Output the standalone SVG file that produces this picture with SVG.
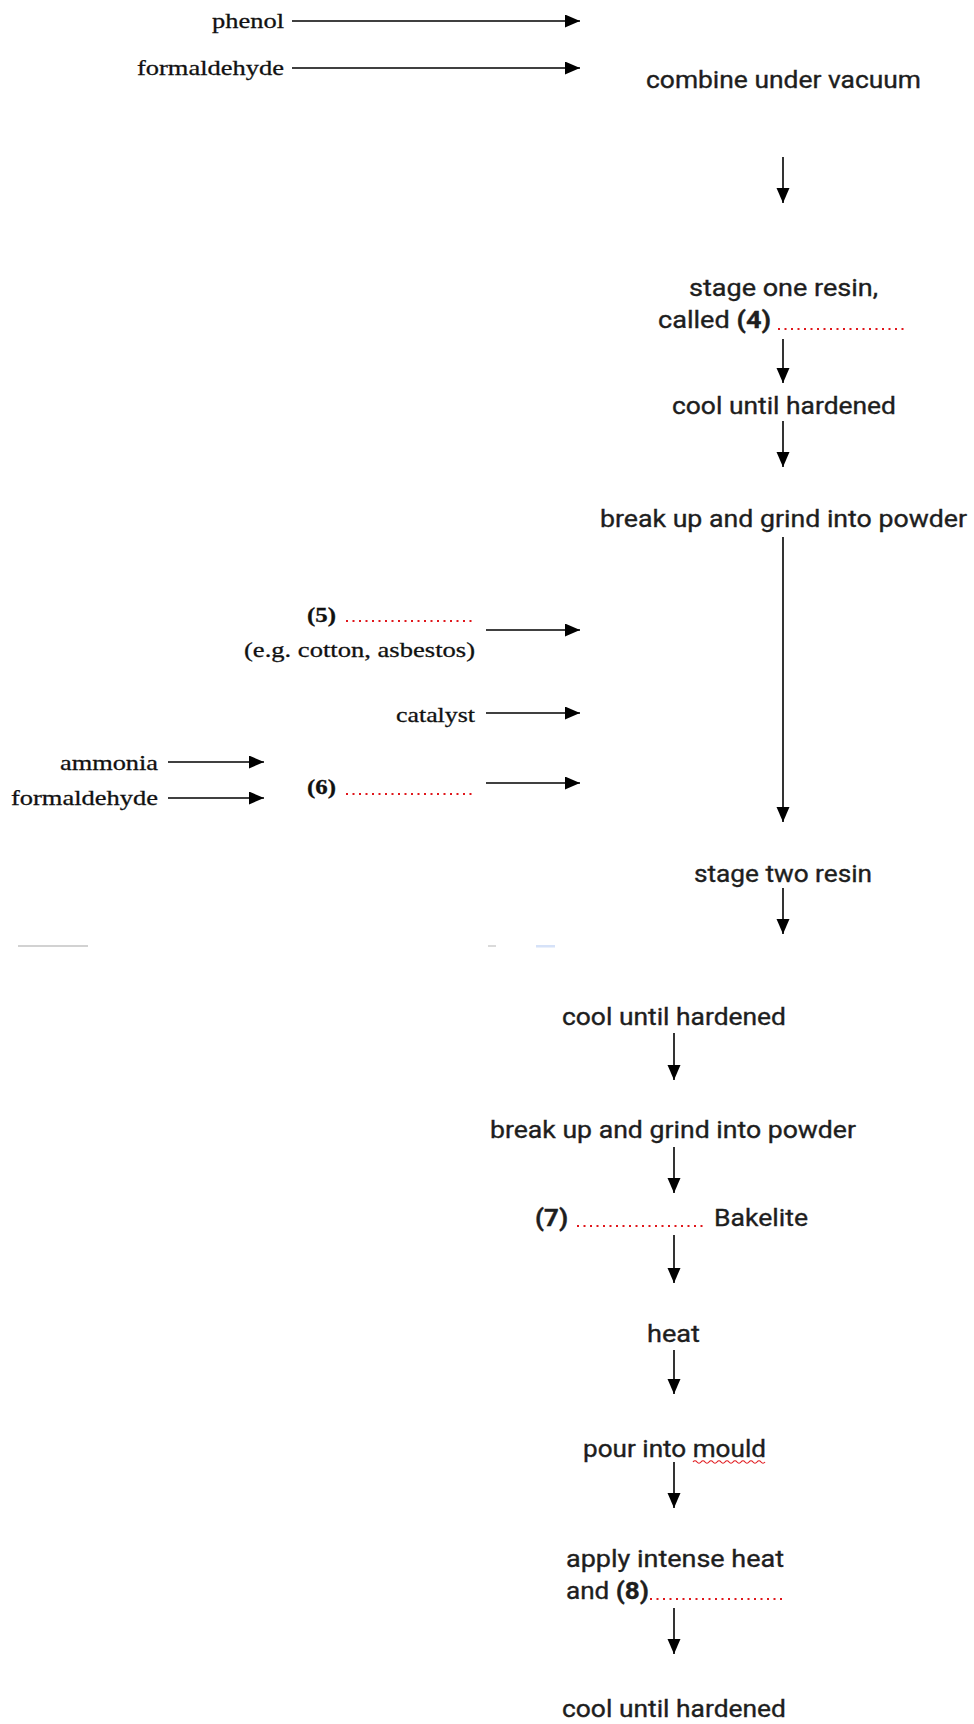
<svg xmlns="http://www.w3.org/2000/svg" width="974" height="1724" viewBox="0 0 974 1724">
<style>
.s{font-family:Roboto,"Liberation Sans",Arial,sans-serif;font-size:24px;fill:#1e1e1e;stroke:#1e1e1e;stroke-width:0.35}
.r{font-family:"Liberation Serif","Times New Roman",serif;font-size:22px;fill:#111;stroke:#111;stroke-width:0.3}
.b{font-weight:bold}
.ln{stroke:#000;stroke-width:1.6;fill:none}
.dot{stroke:#e0161b;stroke-width:2;stroke-dasharray:2 4.5;fill:none}
</style>
<defs>
<marker id="ah" markerUnits="userSpaceOnUse" markerWidth="16" markerHeight="14" refX="15" refY="6.5" orient="auto">
<path d="M0,0 L15,6.5 L0,13 z" fill="#000"/>
</marker>
</defs>
<rect width="974" height="1724" fill="#fff"/>
<g id="connectors">
<line class="ln" x1="292" y1="21" x2="580" y2="21" marker-end="url(#ah)"/>
<line class="ln" x1="292" y1="68" x2="580" y2="68" marker-end="url(#ah)"/>
<line class="ln" x1="783" y1="157" x2="783" y2="203" marker-end="url(#ah)"/>
<line class="ln" x1="783" y1="339" x2="783" y2="383" marker-end="url(#ah)"/>
<line class="ln" x1="783" y1="421" x2="783" y2="467" marker-end="url(#ah)"/>
<line class="ln" x1="783" y1="537" x2="783" y2="822" marker-end="url(#ah)"/>
<line class="ln" x1="486" y1="630" x2="580" y2="630" marker-end="url(#ah)"/>
<line class="ln" x1="486" y1="713" x2="580" y2="713" marker-end="url(#ah)"/>
<line class="ln" x1="486" y1="783" x2="580" y2="783" marker-end="url(#ah)"/>
<line class="ln" x1="168" y1="762" x2="264" y2="762" marker-end="url(#ah)"/>
<line class="ln" x1="168" y1="798" x2="264" y2="798" marker-end="url(#ah)"/>
<line class="ln" x1="783" y1="888" x2="783" y2="934" marker-end="url(#ah)"/>
<line class="ln" x1="674" y1="1033" x2="674" y2="1080" marker-end="url(#ah)"/>
<line class="ln" x1="674" y1="1147" x2="674" y2="1193" marker-end="url(#ah)"/>
<line class="ln" x1="674" y1="1235" x2="674" y2="1283" marker-end="url(#ah)"/>
<line class="ln" x1="674" y1="1350" x2="674" y2="1394" marker-end="url(#ah)"/>
<line class="ln" x1="674" y1="1462" x2="674" y2="1508" marker-end="url(#ah)"/>
<line class="ln" x1="674" y1="1608" x2="674" y2="1654" marker-end="url(#ah)"/>
</g>
<g id="phenol"><text class="r" x="284" y="28" text-anchor="end" textLength="72" lengthAdjust="spacingAndGlyphs">phenol</text></g>
<g id="formaldehyde1"><text class="r" x="284" y="75" text-anchor="end" textLength="147" lengthAdjust="spacingAndGlyphs">formaldehyde</text></g>
<g id="combine"><text class="s" x="646" y="88" textLength="275" lengthAdjust="spacingAndGlyphs">combine under vacuum</text></g>
<g id="stage1">
<text class="s" x="689" y="296" textLength="189" lengthAdjust="spacingAndGlyphs">stage one resin,</text>
<text class="s" x="658" y="328" textLength="113" lengthAdjust="spacingAndGlyphs">called <tspan class="b">(4)</tspan></text>
<line class="dot" x1="778" y1="329" x2="908" y2="329"/>
</g>
<g id="cool1"><text class="s" x="672" y="414" textLength="224" lengthAdjust="spacingAndGlyphs">cool until hardened</text></g>
<g id="grind1"><text class="s" x="600" y="527" textLength="367" lengthAdjust="spacingAndGlyphs">break up and grind into powder</text></g>
<g id="filler">
<text class="r b" x="307" y="622" textLength="29" lengthAdjust="spacingAndGlyphs">(5)</text>
<line class="dot" x1="346" y1="621" x2="476" y2="621"/>
<text class="r" x="475" y="657" text-anchor="end" textLength="231" lengthAdjust="spacingAndGlyphs">(e.g. cotton, asbestos)</text>
</g>
<g id="catalyst"><text class="r" x="475" y="722" text-anchor="end" textLength="79" lengthAdjust="spacingAndGlyphs">catalyst</text></g>
<g id="ammonia"><text class="r" x="158" y="770" text-anchor="end" textLength="98" lengthAdjust="spacingAndGlyphs">ammonia</text></g>
<g id="formaldehyde2"><text class="r" x="158" y="805" text-anchor="end" textLength="147" lengthAdjust="spacingAndGlyphs">formaldehyde</text></g>
<g id="item6">
<text class="r b" x="307" y="794" textLength="29" lengthAdjust="spacingAndGlyphs">(6)</text>
<line class="dot" x1="346" y1="794" x2="476" y2="794"/>
</g>
<g id="stage2"><text class="s" x="694" y="882" textLength="178" lengthAdjust="spacingAndGlyphs">stage two resin</text></g>
<g id="artifacts">
<rect x="18" y="945" width="70" height="2" fill="#d2d2d2"/>
<rect x="488" y="945" width="8" height="2" fill="#dadada"/>
<rect x="536" y="945" width="19" height="2.5" fill="#d6e2f8"/>
</g>
<g id="cool2"><text class="s" x="562" y="1025" textLength="224" lengthAdjust="spacingAndGlyphs">cool until hardened</text></g>
<g id="grind2"><text class="s" x="490" y="1138" textLength="366" lengthAdjust="spacingAndGlyphs">break up and grind into powder</text></g>
<g id="bakelite">
<text class="s b" x="535" y="1226" textLength="33" lengthAdjust="spacingAndGlyphs">(7)</text>
<line class="dot" x1="577" y1="1226" x2="707" y2="1226"/>
<text class="s" x="714" y="1226" textLength="94" lengthAdjust="spacingAndGlyphs">Bakelite</text>
</g>
<g id="heat"><text class="s" x="647" y="1342" textLength="53" lengthAdjust="spacingAndGlyphs">heat</text></g>
<g id="mould">
<text class="s" x="583" y="1457" textLength="183" lengthAdjust="spacingAndGlyphs">pour into mould</text>
<path d="M693,1462 q2,-2.5 4,0 t4,0 t4,0 t4,0 t4,0 t4,0 t4,0 t4,0 t4,0 t4,0 t4,0 t4,0 t4,0 t4,0 t4,0 t4,0 t4,0 t4,0" stroke="#e0161b" stroke-width="1.2" fill="none"/>
</g>
<g id="intense">
<text class="s" x="566" y="1567" textLength="218" lengthAdjust="spacingAndGlyphs">apply intense heat</text>
<text class="s" x="566" y="1599" textLength="83" lengthAdjust="spacingAndGlyphs">and <tspan class="b">(8)</tspan></text>
<line class="dot" x1="650" y1="1599" x2="782" y2="1599"/>
</g>
<g id="cool3"><text class="s" x="562" y="1717" textLength="224" lengthAdjust="spacingAndGlyphs">cool until hardened</text></g>
</svg>
